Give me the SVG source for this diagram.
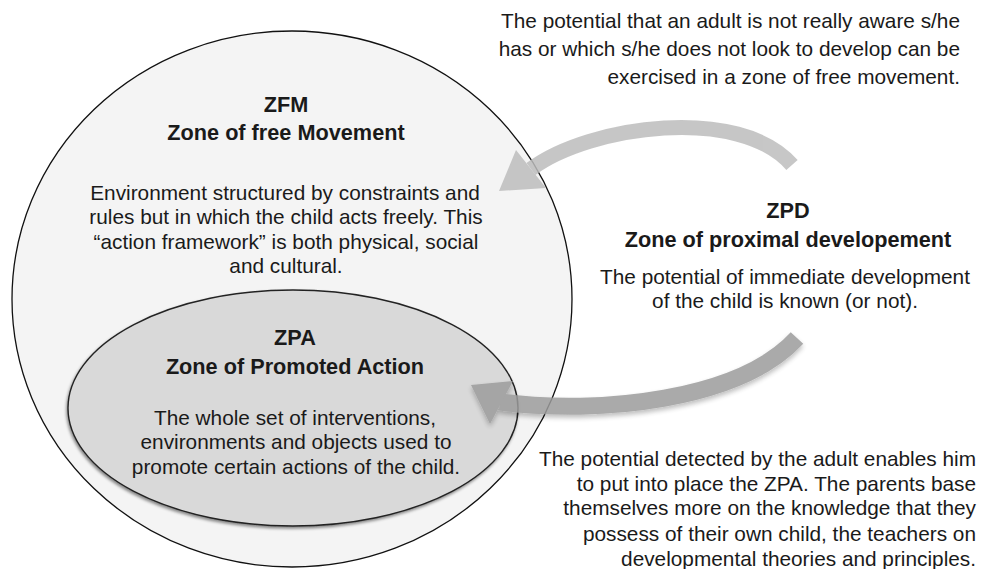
<svg xmlns="http://www.w3.org/2000/svg" width="981" height="569" viewBox="0 0 981 569">
<defs>
<style>
text{font-family:"Liberation Sans",Arial,sans-serif;fill:#1a1a1a}
.h{font-size:21.7px;font-weight:bold;text-anchor:middle}
.b{font-size:20.8px;text-anchor:middle}
.r{font-size:20.8px;text-anchor:end}
</style>
<filter id="sh" x="-10%" y="-10%" width="120%" height="130%">
<feDropShadow dx="-1" dy="2" stdDeviation="1.5" flood-color="#000" flood-opacity="0.45"/>
</filter>
<filter id="ash" x="-10%" y="-20%" width="120%" height="160%">
<feDropShadow dx="0" dy="3" stdDeviation="2.5" flood-color="#000" flood-opacity="0.3"/>
</filter>
</defs>
<rect width="981" height="569" fill="#ffffff"/>
<g id="zfm">
<ellipse cx="292" cy="299" rx="280" ry="268" fill="#f4f4f4" stroke="#111" stroke-width="1.3"/>
<text class="h" x="286" y="112">ZFM</text>
<text class="h" x="286" y="140">Zone of free Movement</text>
<text class="b" x="285" y="200">Environment structured by constraints and</text>
<text class="b" x="286" y="224">rules but in which the child acts freely. This</text>
<text class="b" x="286" y="249">“action framework” is both physical, social</text>
<text class="b" x="286" y="273">and cultural.</text>
</g>
<g id="zpa">
<ellipse cx="293" cy="408" rx="225" ry="118" fill="#d9d9d9" stroke="#222" stroke-width="1.4" filter="url(#sh)"/>
<text class="h" x="295" y="345">ZPA</text>
<text class="h" x="295" y="374">Zone of Promoted Action</text>
<text class="b" x="295" y="425">The whole set of interventions,</text>
<text class="b" x="296" y="449">environments and objects used to</text>
<text class="b" x="296" y="474">promote certain actions of the child.</text>
</g>
<g id="zpd">
<text class="h" x="788" y="218">ZPD</text>
<text class="h" x="788" y="247">Zone of proximal developement</text>
<text class="b" x="785" y="284">The potential of immediate development</text>
<text class="b" x="785" y="308">of the child is known (or not).</text>
</g>
<g id="note-top">
<text class="r" x="960" y="28">The potential that an adult is not really aware s/he</text>
<text class="r" x="960" y="56">has or which s/he does not look to develop can be</text>
<text class="r" x="960" y="84">exercised in a zone of free movement.</text>
</g>
<g id="note-bottom">
<text class="r" x="976" y="466">The potential detected by the adult enables him</text>
<text class="r" x="976" y="491">to put into place the ZPA. The parents base</text>
<text class="r" x="976" y="515">themselves more on the knowledge that they</text>
<text class="r" x="976" y="541">possess of their own child, the teachers on</text>
<text class="r" x="976" y="566">developmental theories and principles.</text>
</g>
<g id="connectors">
<g opacity="0.85">
<path d="M531,169 C590,125 740,105 792,165" fill="none" stroke="#bdbdbd" stroke-width="15"/>
<polygon points="499,191 516,150 546,188" fill="#bdbdbd"/>
</g>
<g opacity="0.85" filter="url(#ash)">
<path d="M500,402 C600,415 740,400 797,338" fill="none" stroke="#9c9c9c" stroke-width="17"/>
<polygon points="471,385 513,381 490,424" fill="#9c9c9c"/>
</g>
</g>
</svg>
